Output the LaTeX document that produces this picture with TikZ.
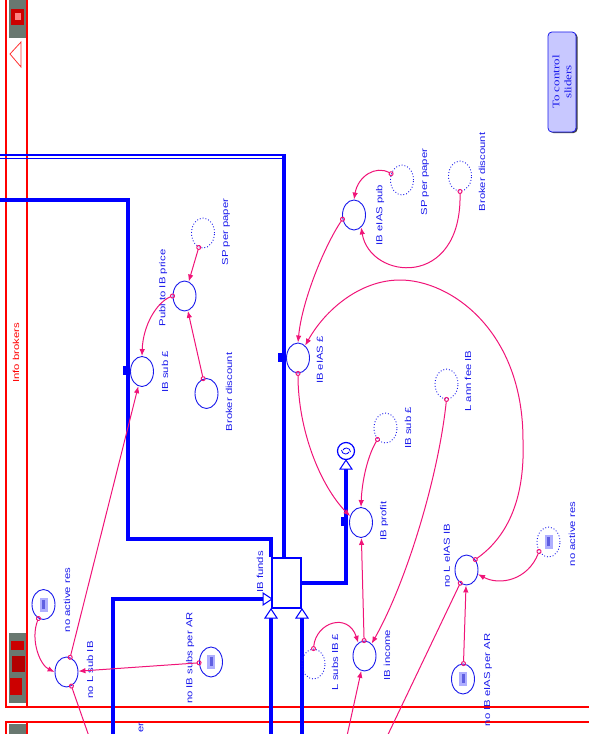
\documentclass[tikz,border=0pt]{standalone}
\usepackage{fontspec}
\setmainfont{Liberation Sans}
\newfontfamily\btnfont{Liberation Serif}
\usetikzlibrary{arrows.meta, positioning, shapes.geometric}

\definecolor{linkpink}{RGB}{240,20,120}
\definecolor{convblue}{RGB}{25,25,235}
\definecolor{pipeblue}{RGB}{0,0,255}
\definecolor{framered}{RGB}{255,0,0}
\definecolor{btnfill}{RGB}{200,200,255}
\definecolor{iconlight}{RGB}{175,175,255}
\definecolor{iconmid}{RGB}{95,95,225}
\definecolor{iconbg}{RGB}{105,120,112}

\begin{document}
\begin{tikzpicture}[
    x=1pt, y=-1pt,
    every node/.style={font=\fontsize{8.7}{10}\selectfont, text=convblue},
    conv/.style={draw=convblue, ellipse, line width=0.9pt, minimum width=23pt, minimum height=30pt, inner sep=0pt},
    ghost/.style={conv, dotted},
    slider/.style={fill=iconlight, minimum width=8pt, minimum height=14pt, inner sep=0pt,
        path picture={\fill[iconmid] ([xshift=-1.5pt, yshift=-4pt]path picture bounding box.center) rectangle ([xshift=1.5pt, yshift=5pt]path picture bounding box.center);}},
    lbl/.style={rotate=90, xscale=1.3, inner sep=0pt},
    link/.style={draw=linkpink, line width=1pt, shorten <=-2.5pt, {Circle[open, length=5pt, width=5pt]}-{Latex[length=7pt, width=5.5pt]}},
    linkout/.style={draw=linkpink, line width=1pt, shorten <=-2.5pt, {Circle[open, length=5pt, width=5pt]}-},
    linkin/.style={draw=linkpink, line width=1pt, -{Latex[length=7pt, width=5.5pt]}},
    pipe/.style={draw=pipeblue, line width=4pt},
    stock/.style={draw=pipeblue, line width=2pt, fill=white, minimum width=29pt, minimum height=50pt, inner sep=0pt},
    framed/.style={draw=framered, line width=2pt},
    valvetab/.style={fill=pipeblue, minimum width=6pt, minimum height=9pt, inner sep=0pt},
    btnbox/.style={rotate=90, xscale=1.3, rounded corners=4pt, minimum width=77pt, minimum height=28pt, inner sep=0pt, align=center},
    tiptri/.pic={\draw[pipeblue, line width=1pt, fill=white] (0,0) -- (-6,9) -- (6,9) -- cycle;}
]
\useasboundingbox (0,0) rectangle (589,734);
\clip (0,0) rectangle (589,734);

% sector frames
\draw[framed] (6,0) -- (6,707) -- (589,707);
\draw[framed] (27,0) -- (27,707);
\draw[framed] (6,734) -- (6,722) -- (589,722);
\draw[framed] (27,722) -- (27,734);
\fill[iconbg] (9,0) rectangle (26,38);
\fill[red!80!black] (11,9) rectangle (24,25);
\fill[red!50!white] (15,13) rectangle (21,20);
\fill[iconbg] (9,633) rectangle (26,703);
\fill[red!80!black] (11,641) rectangle (24,650);
\fill[red!70!black] (12,656) rectangle (25,672);
\fill[red!80!black] (10,678) rectangle (22,695);
\fill[iconbg] (9,724) rectangle (26,734);
\draw[red!80!white, line width=0.8pt] (21,42) -- (10,54) -- (21,67) -- cycle;
\node[lbl, text=framered] (sector) at (16,353) {Info brokers};

% stock and cloud
\node[stock] (funds) at (286.5,583) {};
\node[draw=pipeblue, circle, line width=1.2pt, minimum size=17pt, inner sep=0pt,
    path picture={\draw[pipeblue, line width=0.8pt] ([xshift=-4.5pt, yshift=1pt]path picture bounding box.center) arc[start angle=180, end angle=330, radius=4pt];
                  \draw[pipeblue, line width=0.8pt] ([xshift=4.5pt, yshift=-1pt]path picture bounding box.center) arc[start angle=0, end angle=150, radius=4pt];}] (sink) at (346,451) {};

% pipes
\coordinate (topin) at (283.5,155);
\coordinate (srcB) at (0,200);
\coordinate (srcC) at (113,745);
\coordinate (fundsinL) at (264,599);
\coordinate (srcD) at (271,745);
\coordinate (srcE) at (302,745);
\draw[pipeblue, line width=1.1pt] (0,155) -- (285.5,155);
\draw[pipeblue, line width=1.1pt] (0,158.5) -- (281.5,158.5);
\draw[pipe] (topin) -- (topin |- funds.north);
\draw[pipe] (srcB) -| (128,539) -| (funds.north west);
\draw[pipe] (srcC) |- (fundsinL);
\pic[rotate=-90] at (272,599) {tiptri};
\draw[pipe] (srcD) -- ([yshift=-9pt]funds.south west);
\pic at (funds.south west) {tiptri};
\draw[pipe] (srcE) -- ([yshift=-9pt]funds.south east);
\pic at (funds.south east) {tiptri};
\draw[pipe] (funds.east) -| ([yshift=-9pt]sink.south);
\pic at (sink.south) {tiptri};
\node[valvetab] (ibsubtab) at (126,370.5) {};
\node[valvetab] (eiastab) at (281,357.5) {};
\node[valvetab] (profittab) at (344,521.5) {};
\node[lbl] (fundslbl) at (260,572) {IB funds};

% converters
\node[conv] (pubprice) at (184.5,296) {};
\node[ghost] (spA) at (203,233) {};
\node[conv] (brokerA) at (206.5,393.5) {};
\node[conv] (ibsub) at (142,371.5) {};
\node[conv] (activeA) at (43.5,604.5) {};
\node[conv] (nolsub) at (66.5,672) {};
\node[conv] (subsperar) at (211,662) {};
\node[conv] (eiaspub) at (354,215) {};
\node[ghost] (spB) at (402,180) {};
\node[ghost] (brokerB) at (460,176) {};
\node[conv] (eias) at (298,358) {};
\node[ghost] (ibsubB) at (385.5,428) {};
\node[ghost] (annfee) at (446.5,384) {};
\node[conv] (profit) at (361,522.5) {};
\node[conv] (income) at (364.5,656) {};
\node[ghost] (lsubs) at (313.5,664) {};
\node[conv] (noleias) at (466.5,570) {};
\node[ghost] (activeB) at (548.5,542) {};
\node[conv] (eiasperar) at (463,679) {};
\node[slider] (activeAicon) at (activeA) {};
\node[slider] (subsperaricon) at (subsperar) {};
\node[slider] (activeBicon) at (activeB) {};
\node[slider] (eiasperaricon) at (eiasperar) {};

% labels
\node[lbl] (pubpricelbl) at (163,288) {Publ to IB price};
\node[lbl] (spAlbl) at (226,232) {SP per paper};
\node[lbl] (brokerAlbl) at (229,392) {Broker discount};
\node[lbl] (ibsublbl) at (165,372) {IB sub £};
\node[lbl] (activeAlbl) at (67,600) {no active res};
\node[lbl] (nolsublbl) at (90,670) {no L sub IB};
\node[lbl] (subsperarlbl) at (190,658) {no IB subs per AR};
\node[lbl] (eiaspublbl) at (380,215) {IB eIAS pub};
\node[lbl] (spBlbl) at (425,182) {SP per paper};
\node[lbl] (brokerBlbl) at (482,172) {Broker discount};
\node[lbl] (eiaslbl) at (320,360) {IB eIAS £};
\node[lbl] (ibsubBlbl) at (408,428) {IB sub £};
\node[lbl] (annfeelbl) at (468,381) {L ann fee IB};
\node[lbl] (profitlbl) at (384,521) {IB profit};
\node[lbl] (incomelbl) at (387,655) {IB income};
\node[lbl] (lsubslbl) at (335,662) {L subs IB £};
\node[lbl] (noleiaslbl) at (447,556) {no L eIAS IB};
\node[lbl] (activeBlbl) at (572,534) {no active res};
\node[lbl] (eiasperarlbl) at (488,680) {no IB eIAS per AR};
\node[lbl, anchor=east] (cutlbl) at (141,722) {er};

% button
\node[btnbox, fill=black!75] (slidersshade) at (563.5,83) {};
\node[btnbox, draw=convblue, line width=0.8pt, fill=btnfill, font=\btnfont\fontsize{10}{12}\selectfont] (sliders) at (562,82) {To control\\sliders};

% connectors
\coordinate (offA) at (92,745);
\coordinate (offB) at (345,745);
\coordinate (offC) at (383,745);
\draw[link] (spA) -- (pubprice);
\draw[link] (brokerA) -- (pubprice);
\draw[link] (pubprice.west) .. controls (157,302) and (143,325) .. (ibsub.north);
\draw[link] (nolsub) -- (ibsub);
\draw[link] (activeA.250) .. controls (30,640) and (40,665) .. (nolsub.west);
\draw[link] (subsperar) -- (nolsub);
\draw[linkout] (nolsub) -- (offA);
\draw[link] (spB.150) .. controls (376,165) and (358,176) .. (eiaspub.north);
\draw[link] (brokerB.south) .. controls (462,290) and (370,280) .. (eiaspub.300);
\draw[link] (eiaspub.200) .. controls (325,245) and (302,300) .. (eias.north);
\draw[link] (noleias.50) .. controls (510,535) and (525,495) .. (523,440) .. controls (523,330) and (450,280) .. (400,280) .. controls (360,280) and (325,310) .. (eias.60);
\draw[link] (eias.south) .. controls (298,430) and (320,485) .. (profit.150);
\draw[link] (ibsubB.235) .. controls (368,455) and (362,480) .. (profit.north);
\draw[link] (annfee.south) .. controls (438,480) and (405,585) .. (income.60);
\draw[link] (income) -- (profit);
\draw[link] (lsubs.north) .. controls (316,622) and (348,612) .. (income.115);
\draw[linkin] (offB) -- (income);
\draw[linkout] (noleias) -- (offC);
\draw[link] (eiasperar) -- (noleias);
\draw[link] (activeB.225) .. controls (528,580) and (500,586) .. (noleias.340);
\end{tikzpicture}
\end{document}
